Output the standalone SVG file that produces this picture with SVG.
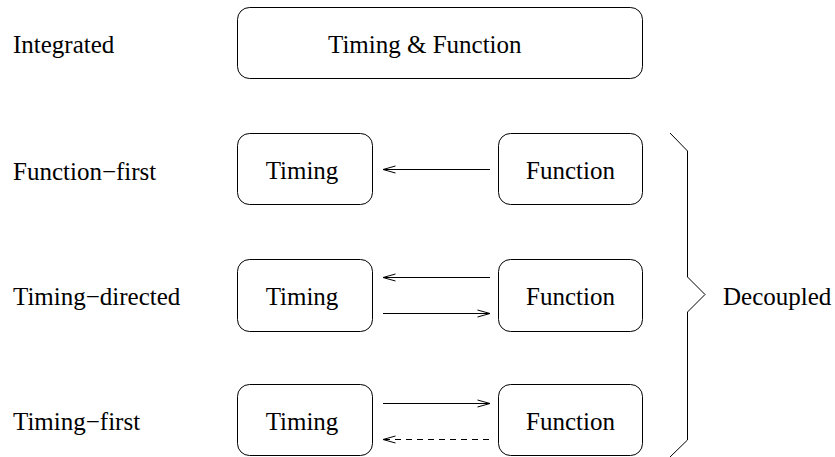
<svg xmlns="http://www.w3.org/2000/svg" width="835" height="457" viewBox="0 0 835 457">
<defs>
<marker id="open" viewBox="0 0 14 9" refX="13" refY="4.5" markerWidth="14" markerHeight="9" markerUnits="userSpaceOnUse" orient="auto">
<path d="M0.5,1 L13,4.5 L0.5,8" fill="none" stroke="#000" stroke-width="1"/>
</marker>
</defs>
<style>
text{font-family:"Liberation Serif","Times New Roman",serif;font-size:25px;fill:#000}
.box{fill:#fff;stroke:#000;stroke-width:1}
.c{text-anchor:middle}
.edge{fill:none;stroke:#000;stroke-width:1}
.dash{stroke-dasharray:6,5}
</style>
<rect width="835" height="457" fill="#fff"/>
<g id="labels">
<text x="13" y="53">Integrated</text>
<text x="13" y="180">Function−first</text>
<text x="13" y="305">Timing−directed</text>
<text x="13" y="430">Timing−first</text>
</g>
<g id="integrated">
<rect class="box" x="237.5" y="7.5" width="405" height="71" rx="12"/>
<text x="328" y="53">Timing &amp; Function</text>
</g>
<g id="ff-timing">
<rect class="box" x="237.5" y="133.5" width="135" height="71" rx="12"/>
<text class="c" x="302" y="179">Timing</text>
</g>
<g id="ff-function">
<rect class="box" x="498.5" y="133.5" width="144" height="71" rx="12"/>
<text class="c" x="570.5" y="179">Function</text>
</g>
<g id="td-timing">
<rect class="box" x="237.5" y="259.5" width="135" height="72" rx="12"/>
<text class="c" x="302" y="305">Timing</text>
</g>
<g id="td-function">
<rect class="box" x="498.5" y="259.5" width="144" height="72" rx="12"/>
<text class="c" x="570.5" y="305">Function</text>
</g>
<g id="tf-timing">
<rect class="box" x="237.5" y="384.5" width="135" height="71" rx="12"/>
<text class="c" x="302" y="430">Timing</text>
</g>
<g id="tf-function">
<rect class="box" x="498.5" y="384.5" width="144" height="71" rx="12"/>
<text class="c" x="570.5" y="430">Function</text>
</g>
<g id="connectors">
<line class="edge" x1="490" y1="169.5" x2="383" y2="169.5" marker-end="url(#open)"/>
<line class="edge" x1="490" y1="277.5" x2="383" y2="277.5" marker-end="url(#open)"/>
<line class="edge" x1="383" y1="313.5" x2="490" y2="313.5" marker-end="url(#open)"/>
<line class="edge" x1="383" y1="403.5" x2="490" y2="403.5" marker-end="url(#open)"/>
<line class="edge dash" x1="489" y1="439.5" x2="383" y2="439.5" marker-end="url(#open)"/>
</g>
<g id="decoupled">
<path class="edge" d="M670,133 L687.5,151 L687.5,277 L705,294.5 L687.5,312 L687.5,440 L670,457"/>
<text x="723" y="305">Decoupled</text>
</g>
</svg>
